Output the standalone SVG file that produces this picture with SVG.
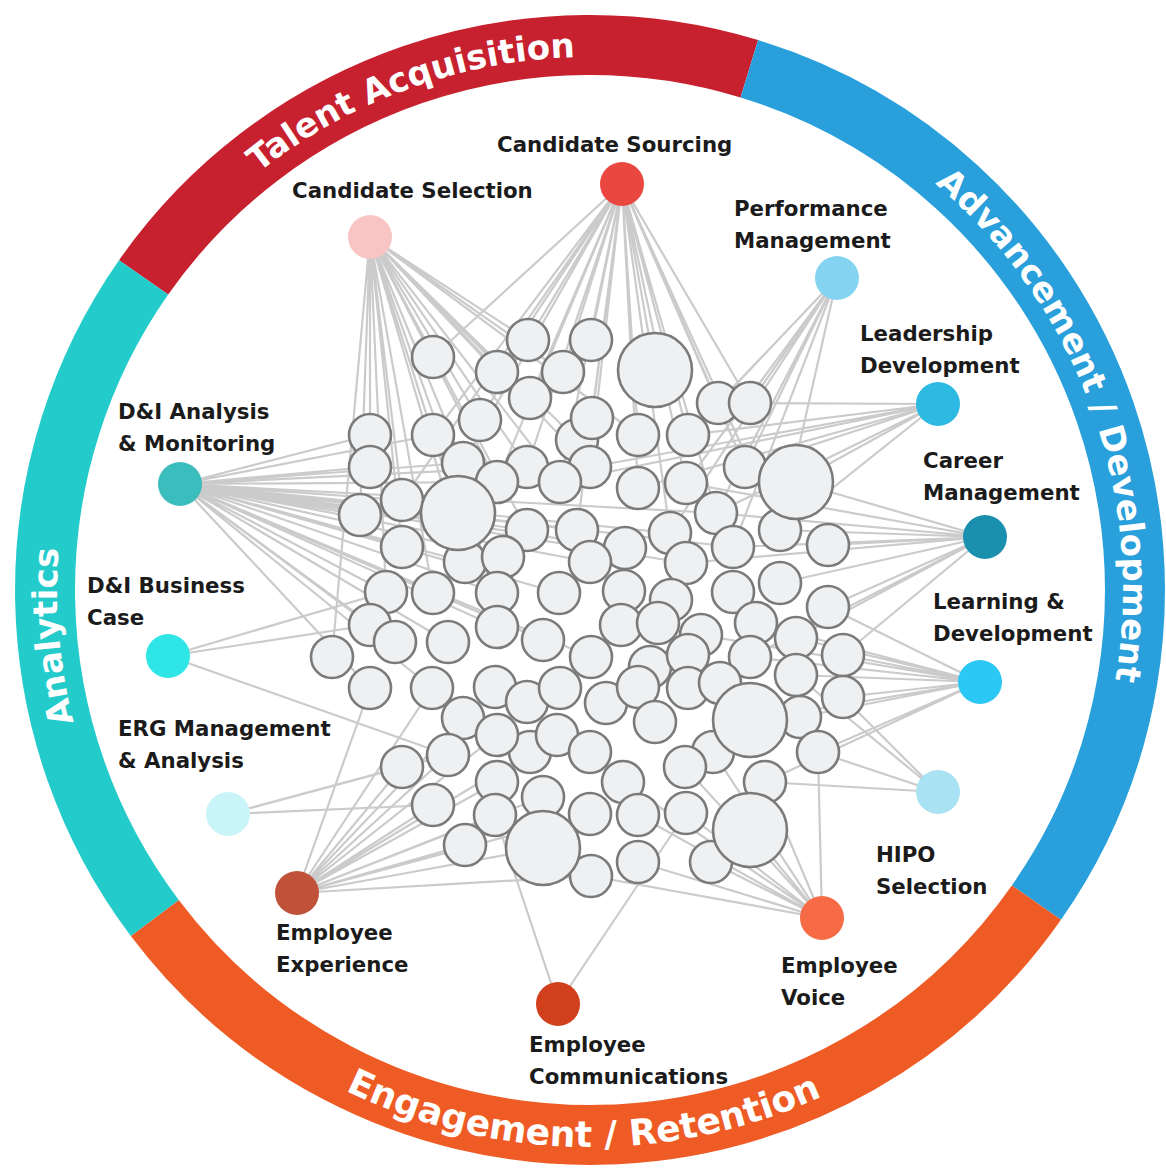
<svg xmlns="http://www.w3.org/2000/svg" width="1166" height="1169" viewBox="0 0 1166 1169">
<style>
.c{fill:#EEF0F2;stroke:#7a7a7a;stroke-width:2.6}
.e{fill:none;stroke:#cbcbcb;stroke-width:2.2}
.lbl{font-family:"DejaVu Sans",Verdana,sans-serif;font-weight:bold;font-size:21.3px;fill:#1b1b1b}
.rt{font-family:"DejaVu Sans",Verdana,sans-serif;font-weight:bold;font-size:34px;fill:#ffffff}
.ring{fill:none;stroke-width:60}
</style>
<defs>
<path id="cw" d="M590 1123A533 533 0 1 1 590 57A533 533 0 1 1 590 1123"/>
<path id="ccw" d="M33 590A557 557 0 0 0 1147 590"/>
</defs>
<rect width="1166" height="1169" fill="#ffffff"/>
<g id="ring">
<path class="ring" stroke="#C7202E" d="M143.6 277.4A545 545 0 0 1 749.3 68.8"/>
<path class="ring" stroke="#29A0DB" d="M749.3 68.8A545 545 0 0 1 1036.4 902.6"/>
<path class="ring" stroke="#EE5B24" d="M1036.4 902.6A545 545 0 0 1 154.8 918"/>
<path class="ring" stroke="#24CBCB" d="M154.8 918A545 545 0 0 1 143.6 277.4"/>
<text class="rt"><textPath href="#cw" startOffset="791" text-anchor="middle">Analytics</textPath></text>
<text class="rt"><textPath href="#cw" startOffset="1488" text-anchor="middle">Talent Acquisition</textPath></text>
<text class="rt"><textPath href="#cw" startOffset="2326" text-anchor="middle">Advancement / Development</textPath></text>
<text class="rt" style="font-size:36px"><textPath href="#ccw" startOffset="868" text-anchor="middle">Engagement / Retention</textPath></text>
</g>
<g id="connectors" class="e">
<path d="M370 237L433 357M370 237L370 435M370 237L370 467M370 237L360 515M370 237L402 500M370 237L433 435M370 237L480 420M370 237L497 372M370 237L528 340M370 237L563 372M370 237L530 398M370 237L463 463M370 237L458 513M370 237L497 482M370 237L527 467M370 237L577 440M370 237L402 547M370 237L386 592M370 237L433 593M370 237L497 593M370 237L560 482M370 237L527 530M370 237L332 657M370 237L465 562M370 237L590 467M370 237L638 435"/>
<path d="M622 184L528 340M622 184L591 340M622 184L497 372M622 184L563 372M622 184L655 370M622 184L530 398M622 184L480 420M622 184L433 435M622 184L592 418M622 184L638 435M622 184L688 435M622 184L718 403M622 184L750 403M622 184L590 467M622 184L527 467M622 184L745 467M622 184L686 483M622 184L463 463M622 184L497 482M622 184L560 482M622 184L638 488M622 184L716 513M622 184L577 530M622 184L670 533M622 184L402 500M622 184L433 357M622 184L780 530"/>
<path d="M837 278L718 403M837 278L750 403M837 278L745 467M837 278L686 483M837 278L716 513M837 278L780 530M837 278L733 547M837 278L688 435M837 278L670 533"/>
<path d="M938 404L750 403M938 404L745 467M938 404L796 482M938 404L688 435M938 404L638 488M938 404L590 467M938 404L716 513M938 404L780 530M938 404L560 482"/>
<path d="M985 537L828 545M985 537L828 607M985 537L796 482M985 537L780 530M985 537L733 547M985 537L716 513M985 537L780 583M985 537L686 483M985 537L796 638M985 537L843 655M985 537L750 657M985 537L686 563"/>
<path d="M980 682L843 655M980 682L843 697M980 682L828 607M980 682L796 638M980 682L796 675M980 682L800 717M980 682L750 657M980 682L756 623M980 682L750 720M980 682L818 752M980 682L765 782M980 682L701 635"/>
<path d="M938 792L818 752M938 792L843 697M938 792L765 782M938 792L796 675"/>
<path d="M822 918L750 830M822 918L765 782M822 918L711 862M822 918L686 813M822 918L638 862M822 918L713 752M822 918L818 752M822 918L638 815M822 918L591 876M822 918L623 782M822 918L685 767"/>
<path d="M558 1004L495 815M558 1004L686 813"/>
<path d="M297 893L402 767M297 893L433 805M297 893L465 845M297 893L543 848M297 893L495 815M297 893L448 755M297 893L497 782M297 893L370 688M297 893L432 688M297 893L543 797M297 893L463 718M297 893L530 752M297 893L591 876M297 893L497 735M297 893L590 814"/>
<path d="M228 814L402 767M228 814L448 755M228 814L433 805"/>
<path d="M168 656L386 592M168 656L370 625M168 656L448 755"/>
<path d="M180 484L370 435M180 484L370 467M180 484L360 515M180 484L402 500M180 484L458 513M180 484L402 547M180 484L386 592M180 484L433 593M180 484L463 463M180 484L497 482M180 484L527 467M180 484L527 530M180 484L577 530M180 484L497 593M180 484L559 593M180 484L590 562M180 484L465 562M180 484L503 557M180 484L370 625M180 484L395 642M180 484L448 642M180 484L497 627M180 484L543 640M180 484L625 548M180 484L670 533M180 484L716 513M180 484L733 547M180 484L686 563M180 484L433 435M180 484L591 657M180 484L370 688M180 484L432 688"/>
</g>
<g id="cluster">
<g id="c1"><circle class="c" cx="433" cy="357" r="21"/></g>
<g id="c2"><circle class="c" cx="528" cy="340" r="21"/></g>
<g id="c3"><circle class="c" cx="591" cy="340" r="21"/></g>
<g id="c4"><circle class="c" cx="497" cy="372" r="21"/></g>
<g id="c5"><circle class="c" cx="563" cy="372" r="21"/></g>
<g id="c6"><circle class="c" cx="530" cy="398" r="21"/></g>
<g id="c7"><circle class="c" cx="718" cy="403" r="21"/></g>
<g id="c8"><circle class="c" cx="750" cy="403" r="21"/></g>
<g id="c9"><circle class="c" cx="480" cy="420" r="21"/></g>
<g id="c10"><circle class="c" cx="370" cy="435" r="21"/></g>
<g id="c11"><circle class="c" cx="433" cy="435" r="21"/></g>
<g id="c12"><circle class="c" cx="577" cy="440" r="21"/></g>
<g id="c13"><circle class="c" cx="592" cy="418" r="21"/></g>
<g id="c14"><circle class="c" cx="638" cy="435" r="21"/></g>
<g id="c15"><circle class="c" cx="688" cy="435" r="21"/></g>
<g id="c16"><circle class="c" cx="370" cy="467" r="21"/></g>
<g id="c17"><circle class="c" cx="463" cy="463" r="21"/></g>
<g id="c18"><circle class="c" cx="527" cy="467" r="21"/></g>
<g id="c19"><circle class="c" cx="497" cy="482" r="21"/></g>
<g id="c20"><circle class="c" cx="590" cy="467" r="21"/></g>
<g id="c21"><circle class="c" cx="560" cy="482" r="21"/></g>
<g id="c22"><circle class="c" cx="638" cy="488" r="21"/></g>
<g id="c23"><circle class="c" cx="686" cy="483" r="21"/></g>
<g id="c24"><circle class="c" cx="745" cy="467" r="21"/></g>
<g id="c25"><circle class="c" cx="360" cy="515" r="21"/></g>
<g id="c26"><circle class="c" cx="402" cy="500" r="21"/></g>
<g id="c27"><circle class="c" cx="527" cy="530" r="21"/></g>
<g id="c28"><circle class="c" cx="577" cy="530" r="21"/></g>
<g id="c29"><circle class="c" cx="625" cy="548" r="21"/></g>
<g id="c30"><circle class="c" cx="670" cy="533" r="21"/></g>
<g id="c31"><circle class="c" cx="716" cy="513" r="21"/></g>
<g id="c32"><circle class="c" cx="780" cy="530" r="21"/></g>
<g id="c33"><circle class="c" cx="828" cy="545" r="21"/></g>
<g id="c34"><circle class="c" cx="402" cy="547" r="21"/></g>
<g id="c35"><circle class="c" cx="465" cy="562" r="21"/></g>
<g id="c36"><circle class="c" cx="503" cy="557" r="21"/></g>
<g id="c37"><circle class="c" cx="590" cy="562" r="21"/></g>
<g id="c38"><circle class="c" cx="686" cy="563" r="21"/></g>
<g id="c39"><circle class="c" cx="733" cy="547" r="21"/></g>
<g id="c40"><circle class="c" cx="386" cy="592" r="21"/></g>
<g id="c41"><circle class="c" cx="433" cy="593" r="21"/></g>
<g id="c42"><circle class="c" cx="497" cy="593" r="21"/></g>
<g id="c43"><circle class="c" cx="559" cy="593" r="21"/></g>
<g id="c44"><circle class="c" cx="624" cy="591" r="21"/></g>
<g id="c45"><circle class="c" cx="671" cy="600" r="21"/></g>
<g id="c46"><circle class="c" cx="733" cy="592" r="21"/></g>
<g id="c47"><circle class="c" cx="780" cy="583" r="21"/></g>
<g id="c48"><circle class="c" cx="828" cy="607" r="21"/></g>
<g id="c49"><circle class="c" cx="370" cy="625" r="21"/></g>
<g id="c50"><circle class="c" cx="395" cy="642" r="21"/></g>
<g id="c51"><circle class="c" cx="332" cy="657" r="21"/></g>
<g id="c52"><circle class="c" cx="448" cy="642" r="21"/></g>
<g id="c53"><circle class="c" cx="497" cy="627" r="21"/></g>
<g id="c54"><circle class="c" cx="543" cy="640" r="21"/></g>
<g id="c55"><circle class="c" cx="591" cy="657" r="21"/></g>
<g id="c56"><circle class="c" cx="621" cy="625" r="21"/></g>
<g id="c57"><circle class="c" cx="658" cy="623" r="21"/></g>
<g id="c58"><circle class="c" cx="701" cy="635" r="21"/></g>
<g id="c59"><circle class="c" cx="756" cy="623" r="21"/></g>
<g id="c60"><circle class="c" cx="796" cy="638" r="21"/></g>
<g id="c61"><circle class="c" cx="843" cy="655" r="21"/></g>
<g id="c62"><circle class="c" cx="650" cy="667" r="21"/></g>
<g id="c63"><circle class="c" cx="688" cy="655" r="21"/></g>
<g id="c64"><circle class="c" cx="750" cy="657" r="21"/></g>
<g id="c65"><circle class="c" cx="796" cy="675" r="21"/></g>
<g id="c66"><circle class="c" cx="370" cy="688" r="21"/></g>
<g id="c67"><circle class="c" cx="432" cy="688" r="21"/></g>
<g id="c68"><circle class="c" cx="495" cy="687" r="21"/></g>
<g id="c69"><circle class="c" cx="527" cy="702" r="21"/></g>
<g id="c70"><circle class="c" cx="560" cy="688" r="21"/></g>
<g id="c71"><circle class="c" cx="606" cy="703" r="21"/></g>
<g id="c72"><circle class="c" cx="638" cy="687" r="21"/></g>
<g id="c73"><circle class="c" cx="688" cy="688" r="21"/></g>
<g id="c74"><circle class="c" cx="720" cy="683" r="21"/></g>
<g id="c75"><circle class="c" cx="800" cy="717" r="21"/></g>
<g id="c76"><circle class="c" cx="843" cy="697" r="21"/></g>
<g id="c77"><circle class="c" cx="655" cy="722" r="21"/></g>
<g id="c78"><circle class="c" cx="463" cy="718" r="21"/></g>
<g id="c79"><circle class="c" cx="530" cy="752" r="21"/></g>
<g id="c80"><circle class="c" cx="497" cy="735" r="21"/></g>
<g id="c81"><circle class="c" cx="557" cy="735" r="21"/></g>
<g id="c82"><circle class="c" cx="590" cy="752" r="21"/></g>
<g id="c83"><circle class="c" cx="402" cy="767" r="21"/></g>
<g id="c84"><circle class="c" cx="448" cy="755" r="21"/></g>
<g id="c85"><circle class="c" cx="713" cy="752" r="21"/></g>
<g id="c86"><circle class="c" cx="685" cy="767" r="21"/></g>
<g id="c87"><circle class="c" cx="818" cy="752" r="21"/></g>
<g id="c88"><circle class="c" cx="497" cy="782" r="21"/></g>
<g id="c89"><circle class="c" cx="543" cy="797" r="21"/></g>
<g id="c90"><circle class="c" cx="433" cy="805" r="21"/></g>
<g id="c91"><circle class="c" cx="495" cy="815" r="21"/></g>
<g id="c92"><circle class="c" cx="590" cy="814" r="21"/></g>
<g id="c93"><circle class="c" cx="623" cy="782" r="21"/></g>
<g id="c94"><circle class="c" cx="765" cy="782" r="21"/></g>
<g id="c95"><circle class="c" cx="638" cy="815" r="21"/></g>
<g id="c96"><circle class="c" cx="686" cy="813" r="21"/></g>
<g id="c97"><circle class="c" cx="465" cy="845" r="21"/></g>
<g id="c98"><circle class="c" cx="591" cy="876" r="21"/></g>
<g id="c99"><circle class="c" cx="638" cy="862" r="21"/></g>
<g id="c100"><circle class="c" cx="711" cy="862" r="21"/></g>
<g id="b1"><circle class="c" cx="655" cy="370" r="37"/></g>
<g id="b2"><circle class="c" cx="458" cy="513" r="37"/></g>
<g id="b3"><circle class="c" cx="796" cy="482" r="37"/></g>
<g id="b4"><circle class="c" cx="750" cy="720" r="37"/></g>
<g id="b5"><circle class="c" cx="750" cy="830" r="37"/></g>
<g id="b6"><circle class="c" cx="543" cy="848" r="37"/></g>
</g>
<g id="candidate-sourcing"><circle cx="622" cy="184" r="22" fill="#E9473F"/><text class="lbl" x="497" y="152">Candidate Sourcing</text></g>
<g id="candidate-selection"><circle cx="370" cy="237" r="22" fill="#F8C4C4"/><text class="lbl" x="292" y="198">Candidate Selection</text></g>
<g id="performance-management"><circle cx="837" cy="278" r="22" fill="#84D4F1"/><text class="lbl" x="734" y="216">Performance<tspan x="734" dy="32">Management</tspan></text></g>
<g id="leadership-development"><circle cx="938" cy="404" r="22" fill="#2CB9E2"/><text class="lbl" x="860" y="341">Leadership<tspan x="860" dy="32">Development</tspan></text></g>
<g id="career-management"><circle cx="985" cy="537" r="22" fill="#1B8FAE"/><text class="lbl" x="923" y="468">Career<tspan x="923" dy="32">Management</tspan></text></g>
<g id="learning-development"><circle cx="980" cy="682" r="22" fill="#2BC8F5"/><text class="lbl" x="933" y="609">Learning &amp;<tspan x="933" dy="32">Development</tspan></text></g>
<g id="hipo-selection"><circle cx="938" cy="792" r="22" fill="#A8E2F3"/><text class="lbl" x="876" y="862">HIPO<tspan x="876" dy="32">Selection</tspan></text></g>
<g id="employee-voice"><circle cx="822" cy="918" r="22" fill="#F66B46"/><text class="lbl" x="781" y="973">Employee<tspan x="781" dy="32">Voice</tspan></text></g>
<g id="employee-communications"><circle cx="558" cy="1004" r="22" fill="#D23F1C"/><text class="lbl" x="529" y="1052">Employee<tspan x="529" dy="32">Communications</tspan></text></g>
<g id="employee-experience"><circle cx="297" cy="893" r="22" fill="#BF5238"/><text class="lbl" x="276" y="940">Employee<tspan x="276" dy="32">Experience</tspan></text></g>
<g id="erg-management"><circle cx="228" cy="814" r="22" fill="#C9F4F8"/><text class="lbl" x="118" y="736">ERG Management<tspan x="118" dy="32">&amp; Analysis</tspan></text></g>
<g id="di-business-case"><circle cx="168" cy="656" r="22" fill="#2EE6E6"/><text class="lbl" x="87" y="593">D&amp;I Business<tspan x="87" dy="32">Case</tspan></text></g>
<g id="di-analysis"><circle cx="180" cy="484" r="22" fill="#3BBDBE"/><text class="lbl" x="118" y="419">D&amp;I Analysis<tspan x="118" dy="32">&amp; Monitoring</tspan></text></g>
</svg>
